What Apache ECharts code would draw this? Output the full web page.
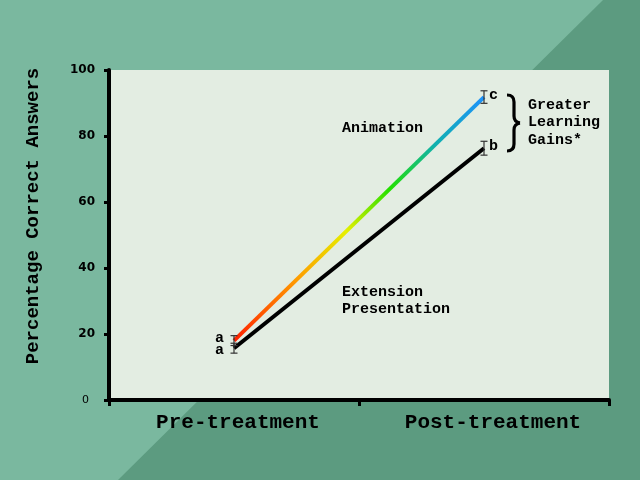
<!DOCTYPE html>
<html><head><meta charset="utf-8">
<script src="https://cdn.jsdelivr.net/npm/echarts@6/dist/echarts.min.js"></script>
<style>html,body{margin:0;padding:0;}#c{width:640px;height:480px;}</style>
</head><body><div id="c"></div>
<script>
var categories = ['Pre-treatment', 'Post-treatment'];
var animationValues = [18, 91.8];
var animationErr = [1.5, 1.9];
var animationLetters = ['a', 'c'];
var extensionValues = [15.7, 76.3];
var extensionErr = [1.5, 2.1];
var extensionLetters = ['a', 'b'];

var chart = echarts.init(document.getElementById('c'));
var mono = '"Liberation Mono", "Courier New", monospace';

function errData(vals, errs) {
  return vals.map(function (v, i) { return [i, v, errs[i]]; });
}
function errRender(letters, above) {
  return function (params, api) {
    var i = api.value(0), v = api.value(1), e = api.value(2);
    var top = api.coord([i, v + e]);
    var bot = api.coord([i, v - e]);
    var mid = api.coord([i, v]);
    var w = 3.5;
    var st = { stroke: '#333', lineWidth: 1.2 };
    var isPre = params.dataIndex === 0;
    return {
      type: 'group',
      children: [
        { type: 'line', shape: { x1: top[0], y1: top[1], x2: bot[0], y2: bot[1] }, style: st },
        { type: 'line', shape: { x1: top[0] - w, y1: top[1], x2: top[0] + w, y2: top[1] }, style: st },
        { type: 'line', shape: { x1: bot[0] - w, y1: bot[1], x2: bot[0] + w, y2: bot[1] }, style: st },
        { type: 'text', style: {
            text: letters[params.dataIndex], x: isPre ? mid[0] - 10 : mid[0] + 5,
            y: mid[1] + (isPre ? (above ? -2 : 2) : -2),
            align: isPre ? 'right' : 'left', verticalAlign: 'middle',
            font: 'bold 15px ' + mono, fill: '#000' } }
      ]
    };
  };
}

var braceStyle = { fill: 'none', stroke: '#000', lineWidth: 3.2 };
var option = {
  animation: false,
  grid: { left: 109, right: 31, top: 70, bottom: 80, show: true, backgroundColor: '#e3ede2', borderWidth: 0 },
  xAxis: [{
    type: 'category', data: categories, boundaryGap: true,
    axisLine: { lineStyle: { color: '#000', width: 4 } },
    axisTick: { show: true, interval: 0, length: 6, lineStyle: { color: '#000', width: 3 } },
    axisLabel: {
      interval: 0, hideOverlap: false,
      color: '#000', fontFamily: mono, fontWeight: 'bold', fontSize: 21, margin: 12,
      formatter: function (v, i) { return i === 0 ? '{p|' + v + '}' : '{q|' + v + '}'; },
      rich: {
        p: { fontFamily: mono, fontWeight: 'bold', fontSize: 21, color: '#000', padding: [0, 0, 0, 8] },
        q: { fontFamily: mono, fontWeight: 'bold', fontSize: 21, color: '#000', padding: [0, 0, 0, 18] }
      }
    },
    splitLine: { show: false }
  }],
  yAxis: {
    type: 'value', min: 0, max: 100, interval: 20,
    name: 'Percentage Correct Answers', nameLocation: 'middle', nameGap: 66, nameRotate: 90,
    nameTextStyle: { color: '#000', fontFamily: mono, fontWeight: 'bold', fontSize: 19, padding: [0, 0, 0, 38] },
    axisLine: { show: true, lineStyle: { color: '#000', width: 4 } },
    axisTick: { show: true, length: 5, lineStyle: { color: '#000', width: 3 } },
    axisLabel: {
      color: '#000', fontFamily: '"DejaVu Sans", sans-serif', fontWeight: 'bold', fontSize: 12, margin: 14,
      formatter: function (v) { return v === 0 ? '{z|0}' : String(v); },
      rich: { z: { fontSize: 11, fontWeight: 'normal', fontFamily: '"DejaVu Sans", sans-serif', color: '#000', padding: [0, 6, 0, 0] } }
    },
    splitLine: { show: false }
  },
  graphic: [
    { type: 'rect', silent: true, z: -20, shape: { x: 0, y: 0, width: 640, height: 480 }, style: { fill: '#7ab89f' } },
    { type: 'polygon', silent: true, z: -19, shape: { points: [[603, 0], [640, 0], [640, 480], [118, 480]] }, style: { fill: '#5c9b80' } },
    { type: 'text', z: 50, x: 342, y: 121, style: { text: 'Animation', font: 'bold 15px ' + mono, fill: '#000' } },
    { type: 'text', z: 50, x: 342, y: 284, style: { text: 'Extension\nPresentation', font: 'bold 15px ' + mono, fill: '#000', lineHeight: 17 } },
    { type: 'text', z: 50, x: 528, y: 96, style: { text: 'Greater\nLearning\nGains*', font: 'bold 15px ' + mono, fill: '#000', lineHeight: 17.5 } },
    { type: 'bezierCurve', z: 50, shape: { x1: 507, y1: 95, cpx1: 514, cpy1: 95, x2: 514, y2: 102 }, style: braceStyle },
    { type: 'line', z: 50, shape: { x1: 514, y1: 102, x2: 514, y2: 116 }, style: braceStyle },
    { type: 'bezierCurve', z: 50, shape: { x1: 514, y1: 116, cpx1: 514, cpy1: 122, x2: 520, y2: 123 }, style: braceStyle },
    { type: 'bezierCurve', z: 50, shape: { x1: 520, y1: 123, cpx1: 514, cpy1: 124, x2: 514, y2: 130 }, style: braceStyle },
    { type: 'line', z: 50, shape: { x1: 514, y1: 130, x2: 514, y2: 144 }, style: braceStyle },
    { type: 'bezierCurve', z: 50, shape: { x1: 514, y1: 144, cpx1: 514, cpy1: 151, x2: 507, y2: 151 }, style: braceStyle }
  ],
  series: [
    {
      name: 'Extension Presentation', type: 'line', data: extensionValues, symbol: 'none', z: 3,
      lineStyle: { color: '#000', width: 4 }
    },
    {
      name: 'Animation', type: 'line', data: animationValues, symbol: 'none', z: 3,
      lineStyle: { width: 4, color: {
        type: 'linear', x: 0, y: 1, x2: 1, y2: 0,
        colorStops: [
          { offset: 0, color: '#ff1a00' },
          { offset: 0.25, color: '#ff9900' },
          { offset: 0.45, color: '#e6f000' },
          { offset: 0.62, color: '#22e000' },
          { offset: 0.8, color: '#10b0b0' },
          { offset: 1, color: '#1e90ff' }
        ] } }
    },
    { type: 'custom', z: 5, renderItem: errRender(extensionLetters, false), data: errData(extensionValues, extensionErr) },
    { type: 'custom', z: 5, renderItem: errRender(animationLetters, true), data: errData(animationValues, animationErr) }
  ]
};
chart.setOption(option);
</script></body></html>
